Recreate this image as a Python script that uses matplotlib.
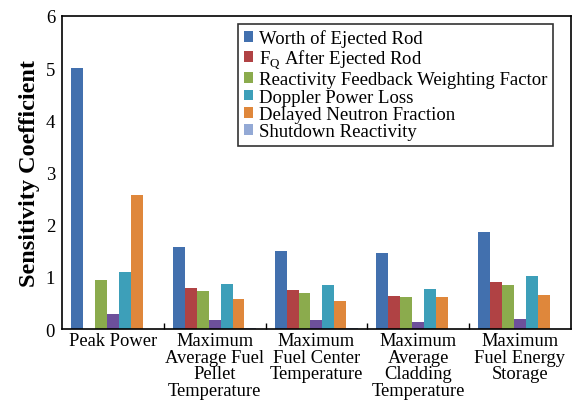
import numpy as np
import matplotlib.pyplot as plt
from matplotlib.ticker import FixedLocator, NullFormatter

plt.rcParams['font.family'] = ['Liberation Serif', 'DejaVu Serif']
plt.rcParams['mathtext.fontset'] = 'custom'
plt.rcParams['mathtext.rm'] = 'Liberation Serif'

# output parameters (x axis groups)
groups = ['Peak Power',
          'Maximum\nAverage Fuel\nPellet\nTemperature',
          'Maximum\nFuel Center\nTemperature',
          'Maximum\nAverage\nCladding\nTemperature',
          'Maximum\nFuel Energy\nStorage']

# input parameters, in bar order within each group
worth_rod = [5.00, 1.57, 1.50, 1.45, 1.85]
fq_after = [0.00, 0.78, 0.75, 0.64, 0.91]
feedback_weight = [0.94, 0.72, 0.69, 0.61, 0.84]
unlabeled = [0.29, 0.18, 0.17, 0.14, 0.19]
doppler_loss = [1.09, 0.86, 0.84, 0.76, 1.01]
delayed_neutron = [2.57, 0.575, 0.54, 0.61, 0.66]
shutdown = [0.00, 0.012, 0.012, 0.00, 0.00]

series = [
    (worth_rod, '#4270ae', 'Worth of Ejected Rod'),
    (fq_after, '#b04244', r'F$_\mathrm{Q}$ After Ejected Rod'),
    (feedback_weight, '#8bab4d', 'Reactivity Feedback Weighting Factor'),
    (unlabeled, '#6d509b', None),
    (doppler_loss, '#3d9fb9', 'Doppler Power Loss'),
    (delayed_neutron, '#df873b', 'Delayed Neutron Fraction'),
    (shutdown, '#93a9d5', 'Shutdown Reactivity'),
]

fig = plt.figure(figsize=(5.76, 4.02), dpi=100)
ax = fig.add_axes([0.1076, 0.179, 0.8834, 0.779])

n = len(series)
width = 0.82 / n
x = np.arange(len(groups)) + 0.5
handles = []
labels = []
for i, (vals, color, label) in enumerate(series):
    offs = (i - (n - 1) / 2) * width
    b = ax.bar(x + offs, vals, width, color=color, edgecolor='none')
    if label is not None:
        handles.append(b)
        labels.append(label)

ax.set_xlim(0, len(groups))
ax.set_ylim(0, 6)
ax.set_xticks(x)
ax.set_xticklabels(groups, fontsize=13.3, linespacing=0.98)
ax.xaxis.set_minor_locator(FixedLocator([1, 2, 3, 4]))
ax.xaxis.set_minor_formatter(NullFormatter())
ax.tick_params(axis='x', which='major', length=0, pad=2)
ax.tick_params(axis='x', which='minor', direction='in', length=4, width=1)
ax.tick_params(axis='y', length=0, labelsize=13.5, pad=5)
for s in ax.spines.values():
    s.set_linewidth(1.2)

ax.set_ylabel('Sensitivity Coefficient', fontsize=17.5, fontweight='bold', labelpad=4)

leg = ax.legend(handles, labels, loc='upper right', bbox_to_anchor=(0.965, 0.975),
                borderaxespad=0, fontsize=13.5, frameon=True, fancybox=False,
                handlelength=0.5, handleheight=0.5, handletextpad=0.3,
                labelspacing=0.02, borderpad=0.3)
leg.get_frame().set_edgecolor('black')
leg.get_frame().set_linewidth(1.2)

fig.savefig('out.png', dpi=100)
